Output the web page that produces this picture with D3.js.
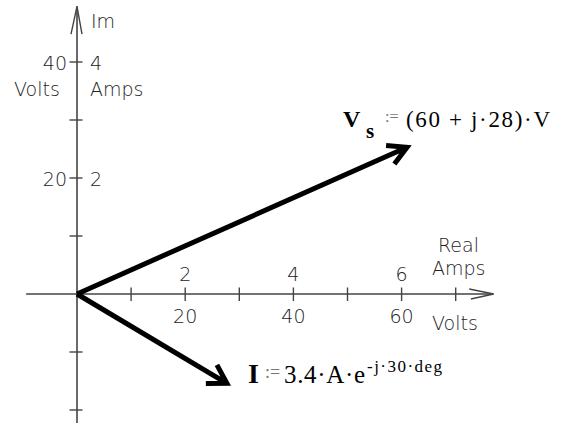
<!DOCTYPE html>
<html><head><meta charset="utf-8">
<script src="https://cdn.jsdelivr.net/npm/d3@7"></script>
<style>
html,body{margin:0;padding:0;background:#fff;}
svg{display:block;}
.ax{font-family:"DejaVu Sans",sans-serif;font-size:19px;fill:#222;font-weight:300;}
.eq{font-family:"Liberation Serif","Times New Roman",serif;fill:#000;}
</style>
</head><body>
<svg id="c" width="573" height="423"></svg>
<script>
// ---- data (volts scale; amps = volts/10) ----
const xTicksVolts = [10, 20, 30, 40, 50, 60, 70];
const yTicksVolts = [-20, -10, 10, 20, 30, 40];
const xVoltLabels = [20, 40, 60];
const xAmpLabels = [2, 4, 6];
const yVoltLabels = [20, 40];
const yAmpLabels = [2, 4];
const vsVector = [61.0, 25.3];      // drawn tip of Vs (volts)
const iVector = [2.77, -1.54];      // drawn tip of I (amps)
const ampToVolt = 10;

const svg = d3.select("#c");
const x = d3.scaleLinear().domain([0, 70]).range([77, 455.7]);
const y = d3.scaleLinear().domain([0, 40]).range([294, 62]);

const axisColor = "#444";
const g = svg.append("g");

// horizontal axis
g.append("line").attr("x1", x(-9.4)).attr("x2", x(77)).attr("y1", y(0)).attr("y2", y(0))
  .attr("stroke", axisColor).attr("stroke-width", 1.6);
g.append("path")
  .attr("d", `M${x(72.5)},${y(0)-5} L${x(77)},${y(0)} L${x(72.8)},${y(0)+5}`)
  .attr("fill", "none").attr("stroke", axisColor).attr("stroke-width", 1.4);
// vertical axis
g.append("line").attr("x1", x(0)).attr("x2", x(0)).attr("y1", y(49.6)).attr("y2", y(-22.4))
  .attr("stroke", axisColor).attr("stroke-width", 1.6);
g.append("path")
  .attr("d", `M${x(0)-6},${y(44.8)} L${x(0)},${y(49.6)} L${x(0)+5},${y(44.8)}`)
  .attr("fill", "none").attr("stroke", axisColor).attr("stroke-width", 1.4);

// ticks
g.selectAll(".xt").data(xTicksVolts).enter().append("line")
  .attr("x1", d => x(d)).attr("x2", d => x(d)).attr("y1", y(0) - 6.5).attr("y2", y(0) + 7)
  .attr("stroke", axisColor).attr("stroke-width", 1.4);
g.selectAll(".yt").data(yTicksVolts).enter().append("line")
  .attr("y1", d => y(d)).attr("y2", d => y(d)).attr("x1", x(0) - 7.5).attr("x2", x(0) + 5.5)
  .attr("stroke", axisColor).attr("stroke-width", 1.4);

// tick labels
g.selectAll(".xa").data(xAmpLabels).enter().append("text").attr("class", "ax")
  .attr("x", d => x(d * ampToVolt)).attr("y", y(0) - 13).attr("text-anchor", "middle").text(d => d);
g.selectAll(".xv").data(xVoltLabels).enter().append("text").attr("class", "ax")
  .attr("x", d => x(d)).attr("y", y(0) + 29).attr("text-anchor", "middle").text(d => d);
g.selectAll(".yv").data(yVoltLabels).enter().append("text").attr("class", "ax")
  .attr("x", x(0) - 10).attr("y", d => y(d) + 7.5).attr("text-anchor", "end").text(d => d);
g.selectAll(".ya").data(yAmpLabels).enter().append("text").attr("class", "ax")
  .attr("x", x(0) + 13).attr("y", d => y(d * ampToVolt) + 7.5).text(d => d);

// axis titles
const ax = (t, px, py, anchor) => g.append("text").attr("class", "ax").attr("x", px).attr("y", py)
  .attr("text-anchor", anchor || "start").text(t);
ax("Im", 91, 28);
ax("Volts", 14, 96);
ax("Amps", 90, 96);
ax("Real", 438, 252);
ax("Amps", 432, 275);
ax("Volts", 432, 330);

// vectors
function drawVector(vx, vy, headLen, halfAngleDeg) {
  const x0 = x(0), y0 = y(0), x1 = x(vx), y1 = y(vy);
  const back = Math.atan2(y0 - y1, x0 - x1);
  const a = halfAngleDeg * Math.PI / 180;
  const b1 = [x1 + headLen * Math.cos(back - a), y1 + headLen * Math.sin(back - a)];
  const b2 = [x1 + headLen * Math.cos(back + a), y1 + headLen * Math.sin(back + a)];
  const p = d3.path();
  p.moveTo(x0, y0); p.lineTo(x1, y1);
  p.moveTo(b1[0], b1[1]); p.lineTo(x1, y1); p.lineTo(b2[0], b2[1]);
  svg.append("path").attr("d", p.toString()).attr("fill", "none").attr("stroke", "#000")
    .attr("stroke-width", 5).attr("stroke-linejoin", "miter").attr("stroke-linecap", "butt");
}
drawVector(vsVector[0], vsVector[1], 21, 29);
drawVector(iVector[0] * ampToVolt, iVector[1] * ampToVolt, 21, 31);

// equation labels
svg.append("text").attr("class", "eq").attr("x", 343).attr("y", 127).attr("font-size", 24)
  .attr("font-weight", "bold").text("V");
svg.append("text").attr("class", "eq").attr("x", 366).attr("y", 138).attr("font-size", 21)
  .attr("font-weight", "bold").text("s");
svg.append("text").attr("class", "eq").attr("x", 385).attr("y", 122).attr("font-size", 16)
  .style("fill", "#777").text(":=");
svg.append("text").attr("class", "eq").attr("x", 406).attr("y", 127).attr("font-size", 23)
  .attr("textLength", 144).attr("lengthAdjust", "spacing").text("(60 + j\u00B728)\u00B7V");

svg.append("text").attr("class", "eq").attr("x", 248).attr("y", 383).attr("font-size", 28)
  .attr("font-weight", "bold").text("I");
svg.append("text").attr("class", "eq").attr("x", 265).attr("y", 378).attr("font-size", 18)
  .style("fill", "#777").text(":=");
svg.append("text").attr("class", "eq").attr("x", 284).attr("y", 383).attr("font-size", 25)
  .attr("textLength", 81).attr("lengthAdjust", "spacing").text("3.4\u00B7A\u00B7e");
svg.append("text").attr("class", "eq").attr("x", 367).attr("y", 372).attr("font-size", 17)
  .attr("textLength", 75).attr("lengthAdjust", "spacing").text("-j\u00B730\u00B7deg");
</script>
</body></html>
